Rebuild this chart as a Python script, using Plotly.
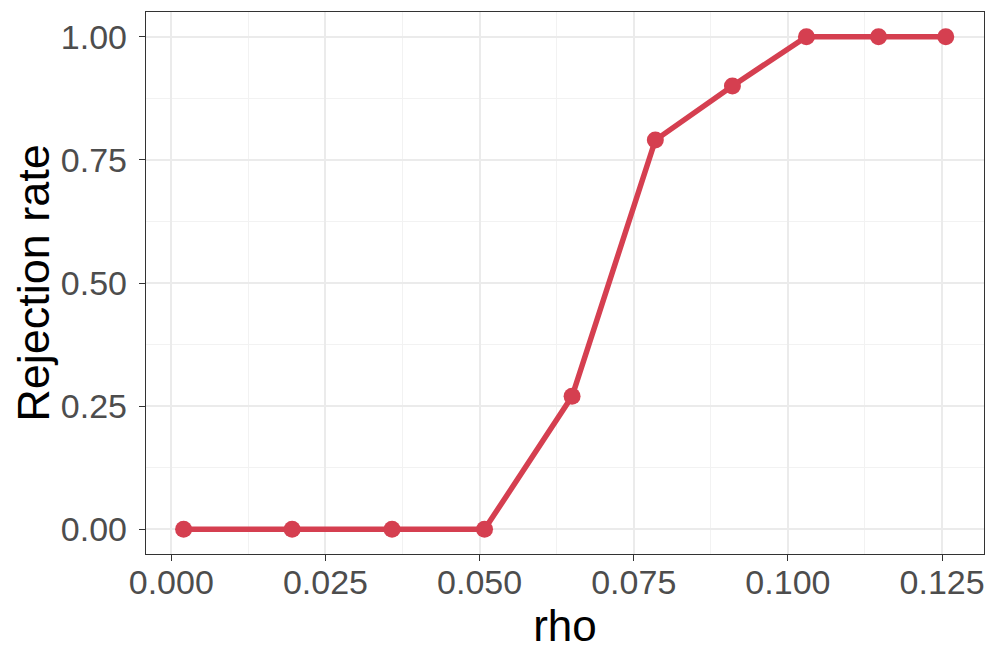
import plotly.graph_objects as go

# rejection rate vs rho
rho = [0.002, 0.0196, 0.0358, 0.0508, 0.065, 0.0785, 0.091, 0.103, 0.1147, 0.1256]
rejection_rate = [0.0, 0.0, 0.0, 0.0, 0.27, 0.79, 0.90, 1.0, 1.0, 1.0]

x_ticks = [0.0, 0.025, 0.05, 0.075, 0.1, 0.125]
x_ticklabels = ["0.000", "0.025", "0.050", "0.075", "0.100", "0.125"]
y_ticks = [0.0, 0.25, 0.5, 0.75, 1.0]
y_ticklabels = ["0.00", "0.25", "0.50", "0.75", "1.00"]

red = "#D53F50"
font_family = "Liberation Sans, Arial, sans-serif"

fig = go.Figure()
fig.add_trace(go.Scatter(
    x=rho, y=rejection_rate, mode="lines+markers",
    line=dict(color=red, width=5.5),
    marker=dict(color=red, size=17),
    showlegend=False,
))

axis_common = dict(
    showgrid=True, gridcolor="#EBEBEB", gridwidth=2,
    showline=True, linecolor="#333333", linewidth=1.3, mirror=True,
    ticks="outside", ticklen=6, tickcolor="#333333", tickwidth=1.3,
    zeroline=False, automargin=False,
    tickfont=dict(family=font_family, size=34, color="#4D4D4D"),
)

fig.update_xaxes(
    range=[-0.0041, 0.1318], tickvals=x_ticks, ticktext=x_ticklabels,
    ticklabelstandoff=-8,
    minor=dict(tickvals=[0.0125, 0.0375, 0.0625, 0.0875, 0.1125],
               showgrid=True, gridcolor="#F2F2F2", gridwidth=1.2, ticks=""),
    title=dict(text="rho", font=dict(family=font_family, size=44, color="black"), standoff=4),
    **axis_common,
)
fig.update_yaxes(
    range=[-0.05, 1.05], tickvals=y_ticks, ticktext=y_ticklabels,
    ticklabelstandoff=5,
    minor=dict(tickvals=[0.125, 0.375, 0.625, 0.875],
               showgrid=True, gridcolor="#F2F2F2", gridwidth=1.2, ticks=""),
    title=dict(text="Rejection rate", font=dict(family=font_family, size=45, color="black"), standoff=12),
    **axis_common,
)

# page body has an 8px margin, so the figure is shifted and shrunk to match
fig.update_layout(
    width=989, height=656,
    plot_bgcolor="white", paper_bgcolor="white",
    margin=dict(l=138, r=13, t=4, b=110),
)

fig.write_html("out.html")
